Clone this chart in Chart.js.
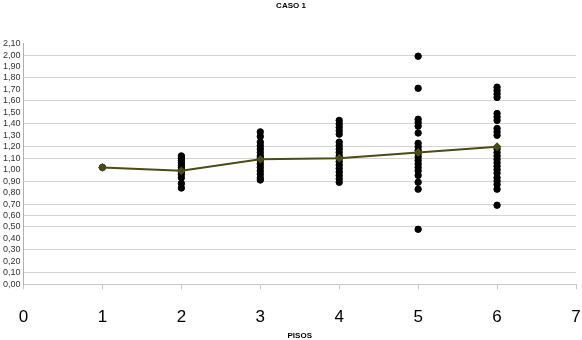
<!DOCTYPE html>
<html>
<head>
<meta charset="utf-8">
<script src="https://cdn.jsdelivr.net/npm/chart.js@4/dist/chart.umd.min.js"></script>
<style>
  html, body { margin: 0; padding: 0; background: #fff; }
  #wrap { width: 582px; height: 340px; }
</style>
</head>
<body>
<div id="wrap"><canvas id="myChart"></canvas></div>
<script>
// pisos (x) and the average line
const pisos = [1, 2, 3, 4, 5, 6];
const mediaCaso1 = [1.02, 0.99, 1.09, 1.10, 1.15, 1.20];

// individual values for each piso
const valoresPiso1 = [1.02];
const valoresPiso2 = [1.12, 1.10, 1.08, 1.06, 1.04, 1.02, 1.00, 0.98, 0.96, 0.93, 0.88, 0.84];
const valoresPiso3 = [1.33, 1.29, 1.24, 1.21, 1.18, 1.15, 1.12, 1.10, 1.08, 1.05, 1.02, 0.99, 0.96, 0.93, 0.91];
const valoresPiso4 = [1.43, 1.40, 1.37, 1.34, 1.31, 1.24, 1.21, 1.18, 1.15, 1.12, 1.10, 1.07, 1.04, 1.01, 0.98, 0.95, 0.92, 0.89];
const valoresPiso5 = [1.99, 1.71, 1.44, 1.41, 1.38, 1.32, 1.23, 1.20, 1.17, 1.14, 1.11, 1.08, 1.05, 1.02, 0.99, 0.95, 0.89, 0.83, 0.48];
const valoresPiso6 = [1.72, 1.69, 1.66, 1.63, 1.49, 1.46, 1.43, 1.36, 1.33, 1.30, 1.18, 1.15, 1.12, 1.09, 1.06, 1.03, 1.00, 0.97, 0.93, 0.90, 0.87, 0.83, 0.69];

// y tick labels and the gridlines that show in the original
const yTicks = [0, 0.1, 0.2, 0.3, 0.4, 0.5, 0.6, 0.7, 0.8, 0.9, 1.0, 1.1, 1.2, 1.3, 1.4, 1.5, 1.6, 1.7, 1.8, 1.9, 2.0, 2.1];
const xTicks = [0, 1, 2, 3, 4, 5, 6, 7];
const gridVisibles = [0.1, 0.3, 0.5, 0.6, 0.7, 0.9, 1.1, 1.2, 1.4, 1.6, 1.8, 2.0];

const valores = [valoresPiso1, valoresPiso2, valoresPiso3, valoresPiso4, valoresPiso5, valoresPiso6];
let puntos = [];
valores.forEach((lista, i) => {
    lista.forEach(v => puntos.push({ x: pisos[i], y: v }));
});

const ctx = document.getElementById('myChart').getContext('2d');
new Chart(ctx, {
    type: 'scatter',
    data: {
        datasets: [
            {
                type: 'line',
                label: 'Media',
                data: pisos.map((p, i) => ({ x: p, y: mediaCaso1[i] })),
                borderColor: '#4b4b16',
                backgroundColor: '#3f4f12',
                borderWidth: 2,
                pointStyle: 'rectRot',
                pointRadius: 3,
                tension: 0,
                order: 0
            },
            {
                label: 'Valores',
                data: puntos,
                backgroundColor: '#000',
                borderColor: '#000',
                pointRadius: 3.2,
                order: 1
            }
        ]
    },
    options: {
        responsive: true,
        maintainAspectRatio: false,
        animation: false,
        layout: { padding: { left: 0, right: 0, top: 0, bottom: 0 } },
        plugins: {
            legend: { display: false },
            tooltip: { enabled: false },
            title: {
                display: true,
                text: 'CASO 1',
                color: '#000',
                font: { family: 'Liberation Sans', size: 8, weight: 'bold' },
                padding: { top: 1, bottom: 33 }
            }
        },
        scales: {
            x: {
                type: 'linear',
                min: 0,
                max: 7,
                afterBuildTicks: axis => { axis.ticks = xTicks.map(v => ({ value: v })); },
                grid: {
                    drawOnChartArea: false,
                    drawTicks: true,
                    tickLength: 5,
                    color: '#c8c8c8'
                },
                border: { color: '#c8c8c8' },
                ticks: {
                    color: '#000',
                    padding: 0,
                    autoSkip: false,
                    maxRotation: 0,
                    font: { family: 'Liberation Sans', size: 17, lineHeight: 3.3 }
                },
                title: {
                    display: true,
                    text: 'PISOS',
                    color: '#000',
                    font: { family: 'Liberation Sans', size: 8, weight: 'bold' },
                    padding: { top: -14, bottom: -1 }
                }
            },
            y: {
                min: 0,
                max: 2.1,
                afterBuildTicks: axis => { axis.ticks = yTicks.map(v => ({ value: v })); },
                grid: {
                    color: c => gridVisibles.some(g => Math.abs(g - c.tick.value) < 1e-6) ? '#d4d4d4' : 'rgba(0,0,0,0)',
                    drawTicks: false
                },
                border: { color: '#b0b0b0' },
                ticks: {
                    color: '#333',
                    padding: 3,
                    autoSkip: false,
                    font: { family: 'Liberation Sans', size: 9 },
                    callback: v => v.toFixed(2).replace('.', ',')
                }
            }
        }
    }
});
</script>
</body>
</html>
